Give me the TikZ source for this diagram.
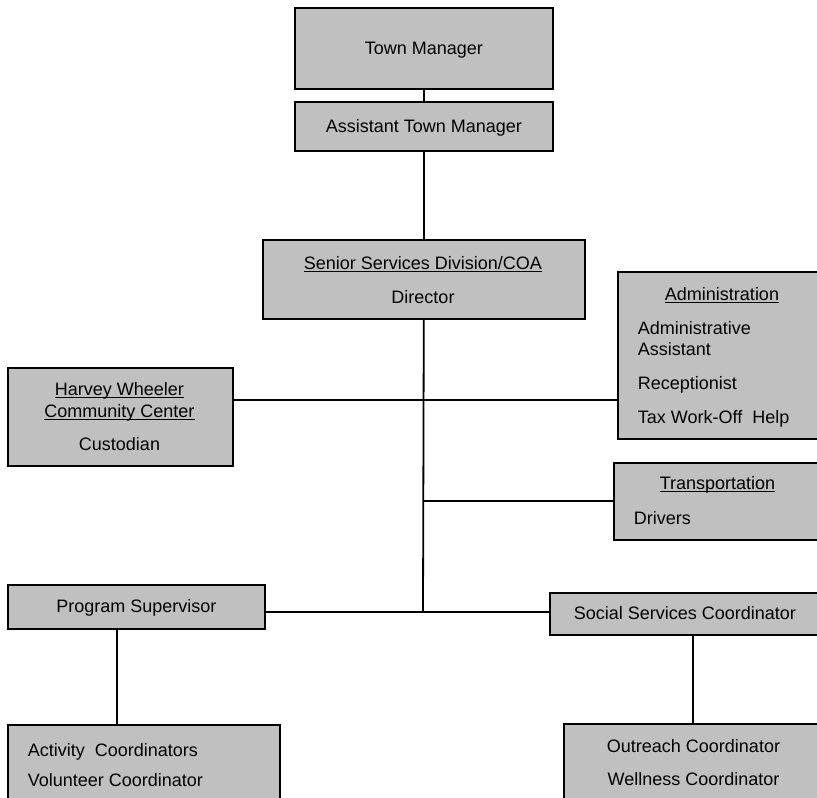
\documentclass[tikz,border=0pt]{standalone}
\usepackage{amsmath}
\usepackage{fontspec}
\setmainfont{Liberation Sans}
\definecolor{boxgray}{HTML}{C0C0C0}
\newcommand{\undl}[1]{\underline{\smash[b]{#1}}}

\begin{document}
\begin{tikzpicture}[x=1pt, y=-1pt, line width=1.8pt,
  font=\fontsize{18}{21}\selectfont,
  box/.style={draw, fill=boxgray, anchor=north west, inner sep=0pt, text height=15pt, text depth=3pt},
  lbl/.style={inner sep=0pt, anchor=base}]
  \useasboundingbox (0,0) rectangle (817,798);
  \clip (0,0) rectangle (817,798);

  % top of the chart
  \node[box, minimum width=258, minimum height=81] (tm) at (294,7) {Town Manager};
  \node[box, minimum width=258, minimum height=49] (atm) at (294,101) {Assistant Town Manager};
  \node[box, minimum width=322, minimum height=79] (ssd) at (262,239) {};
  \node[lbl] (ssd-a) at (423,269) {\undl{Senior Services Division/COA}};
  \node[lbl] (ssd-b) at (423,303) {Director};

  % side boxes
  \node[box, minimum width=225, minimum height=98] (hw) at (7,367) {};
  \node[lbl] (hw-a) at (119.5,395) {\undl{Harvey Wheeler}};
  \node[lbl] (hw-b) at (119.5,417) {\undl{Community Center}};
  \node[lbl] (hw-c) at (119.5,450) {Custodian};

  \node[box, minimum width=210, minimum height=167] (adm) at (617,271) {};
  \node[lbl] (adm-a) at (722,300) {\undl{Administration}};
  \foreach \txt/\yy [count=\i] in {Administrative/334, Assistant/355.5, Receptionist/389, Tax Work-Off\ \ Help/423}
    \node[lbl, anchor=base west] (adm-\i) at (637,\yy) {\txt};

  \node[box, minimum width=214, minimum height=77] (trn) at (613,462) {};
  \node[lbl] (trn-a) at (717.5,489) {\undl{Transportation}};
  \node[lbl, anchor=base west] (trn-b) at (633,524) {Drivers};

  % lower level
  \node[box, minimum width=257, minimum height=44] (ps) at (7,584) {Program Supervisor};
  \node[box, minimum width=270, minimum height=42] (soc) at (549,592) {Social Services Coordinator};

  \node[box, minimum width=272, minimum height=100] (act) at (7,724) {};
  \node[lbl, anchor=base west] (act-a) at (27,756) {Activity\ \ Coordinators};
  \node[lbl, anchor=base west] (act-b) at (27,786) {Volunteer Coordinator};

  \node[box, minimum width=262, minimum height=100] (out) at (563,723) {};
  \node[lbl] (out-a) at (693.5,752) {Outreach Coordinator};
  \node[lbl] (out-b) at (693.5,785) {Wellness Coordinator};

  % connectors
  \coordinate (jhw) at (423,400);
  \coordinate (jtr) at (423,501);
  \coordinate (jps) at (423,612);
  \coordinate (psleg) at (117,0);
  \coordinate (socleg) at (693,0);

  \draw (tm) -- (atm);
  \draw (atm) -- (ssd);
  \draw (ssd) -- (jps);
  \draw (hw.east |- jhw) -- (adm.west |- jhw);
  \draw (jtr) -- (trn.west |- jtr);
  \draw (ps.east |- jps) -- (soc.west |- jps);
  \draw (psleg |- ps.south) -- (psleg |- act.north);
  \draw (socleg |- soc.south) -- (socleg |- out.north);
\end{tikzpicture}
\end{document}
